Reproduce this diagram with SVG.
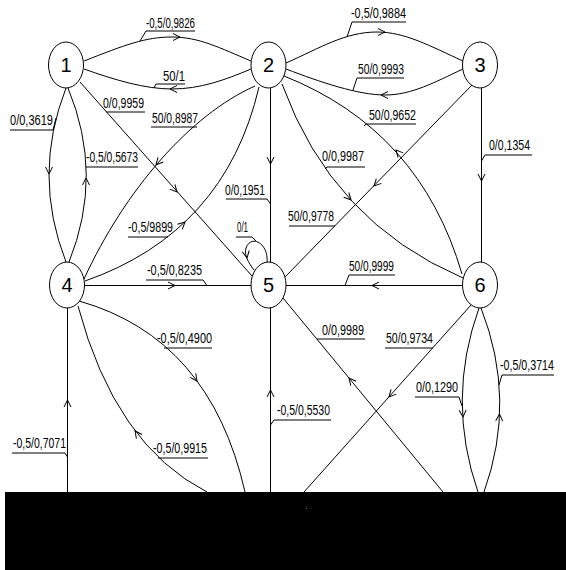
<svg xmlns="http://www.w3.org/2000/svg" xmlns:xlink="http://www.w3.org/1999/xlink" width="566" height="570" viewBox="0 0 566 570">
<style>
.e{fill:none;stroke:#000;stroke-width:1}
.u{fill:none;stroke:#000;stroke-width:1}
.a{fill:none;stroke:#000;stroke-width:1}
.l{font-family:"Liberation Sans",Arial,sans-serif;font-size:14px;fill:#000}
.n ellipse{fill:#fff;stroke:#000;stroke-width:1}
.n text{font-family:"Liberation Sans",Arial,sans-serif;font-size:20px;text-anchor:middle;fill:#000}
</style>
<defs>
<path id="ah" d="M-7,-3.5 L0,0 L-7,3.5"/>
</defs>
<rect width="566" height="570" fill="#fff"/>
<g id="connectors">
 <g id="e1-2a"><path class="e" d="M84,61 C125,45 145,37 172,37 C199,37 220,48 251,61"/><use href="#ah" class="a" transform="translate(180,37)"/><text class="l" x="146" y="28" textLength="49" lengthAdjust="spacingAndGlyphs">-0,5/0,9826</text><path class="u" d="M140,41 L146,31 H195"/></g>
 <g id="e2-1"><path class="e" d="M251,69 C225,80 200,89 172,89 C145,89 115,80 84,69"/><use href="#ah" class="a" transform="translate(170,89) rotate(180)"/><text class="l" x="163" y="81" textLength="22" lengthAdjust="spacingAndGlyphs">50/1</text><path class="u" d="M154,88 L156,84 H185"/></g>
 <g id="e2-3"><path class="e" d="M286,63 C320,48 345,32 377,32 C405,32 430,46 463,61"/><use href="#ah" class="a" transform="translate(385,32)"/><text class="l" x="351" y="18" textLength="55" lengthAdjust="spacingAndGlyphs">-0,5/0,9884</text><path class="u" d="M347,37 L352,22 H406"/></g>
 <g id="e3-2"><path class="e" d="M463,69 C435,82 412,95 385,95 C358,95 320,82 286,69"/><use href="#ah" class="a" transform="translate(381,95) rotate(180)"/><text class="l" x="358" y="74" textLength="46" lengthAdjust="spacingAndGlyphs">50/0,9993</text><path class="u" d="M353,90 L357,78 H404"/></g>
 <g id="e2-6"><path class="e" d="M282,84 Q332,222 463,278"/><use href="#ah" class="a" transform="translate(351,200) rotate(47)"/><text class="l" x="322" y="161" textLength="42" lengthAdjust="spacingAndGlyphs">0/0,9987</text><path class="u" d="M325,169 L327,167 H365"/></g>
 <g id="e6-2"><path class="e" d="M462,274 Q420,130 284,76"/><use href="#ah" class="a" transform="translate(396,150) rotate(228)"/><text class="l" x="369" y="120" textLength="47" lengthAdjust="spacingAndGlyphs">50/0,9652</text><path class="u" d="M364,126 L366,124 H416"/></g>
 <g id="e3-5"><path class="e" d="M472,85 L285,277"/><use href="#ah" class="a" transform="translate(374,186) rotate(134)"/><text class="l" x="288" y="221" textLength="46" lengthAdjust="spacingAndGlyphs">50/0,9778</text><path class="u" d="M289,226 H335"/></g>
 <g id="e3-6"><path class="e" d="M481.5,88 V262"/><use href="#ah" class="a" transform="translate(481.5,181) rotate(90)"/><text class="l" x="489" y="150" textLength="41" lengthAdjust="spacingAndGlyphs">0/0,1354</text><path class="u" d="M481.5,161 L485,155 H532"/></g>
 <g id="e2-5"><path class="e" d="M270.5,88 V262"/><use href="#ah" class="a" transform="translate(270.5,164) rotate(90)"/><text class="l" x="225" y="195" textLength="40" lengthAdjust="spacingAndGlyphs">0/0,1951</text><path class="u" d="M226,199 H267 L270.5,204"/></g>
 <g id="e1-5"><path class="e" d="M80,82 L252,276"/><use href="#ah" class="a" transform="translate(177,192) rotate(48)"/><text class="l" x="103" y="108" textLength="41" lengthAdjust="spacingAndGlyphs">0/0,9959</text><path class="u" d="M106,112 H145"/></g>
 <g id="e1-4"><path class="e" d="M66,88 Q32,175 66,262"/><use href="#ah" class="a" transform="translate(49,174) rotate(90)"/><text class="l" x="10" y="125" textLength="43" lengthAdjust="spacingAndGlyphs">0/0,3619</text><path class="u" d="M10,130 H53 L56,118"/></g>
 <g id="e4-1"><path class="e" d="M69,262 Q104,175 68,88"/><use href="#ah" class="a" transform="translate(86,178) rotate(-90)"/><text class="l" x="86" y="162" textLength="52" lengthAdjust="spacingAndGlyphs">-0,5/0,5673</text><path class="u" d="M86,167 H138"/></g>
 <g id="e2-4"><path class="e" d="M255,86 C190,115 125,190 84,279"/><use href="#ah" class="a" transform="translate(156,165) rotate(131)"/><text class="l" x="152" y="123" textLength="46" lengthAdjust="spacingAndGlyphs">50/0,8987</text><path class="u" d="M151,127 H197"/></g>
 <g id="e4-2"><path class="e" d="M85,281 Q225,232 259,87"/><use href="#ah" class="a" transform="translate(185,222) rotate(-43)"/><text class="l" x="128" y="232" textLength="45" lengthAdjust="spacingAndGlyphs">-0,5/9899</text><path class="u" d="M128,237 H168"/></g>
 <g id="e4-5"><path class="e" d="M84.5,285.5 H251"/><use href="#ah" class="a" transform="translate(175,285.5)"/><text class="l" x="147" y="275" textLength="55" lengthAdjust="spacingAndGlyphs">-0,5/0,8235</text><path class="u" d="M146,280 H203 L207,285.5"/></g>
 <g id="e6-5"><path class="e" d="M463,285.5 H286"/><use href="#ah" class="a" transform="translate(372,285.5) rotate(180)"/><text class="l" x="349" y="271" textLength="45" lengthAdjust="spacingAndGlyphs">50/0,9999</text><path class="u" d="M345,285.5 L349,275 H395"/></g>
 <g id="e5-5"><path class="e" d="M267,263 C269,243 251,234 246,248 C244,255 248,262 254,270"/><use href="#ah" class="a" transform="translate(247,258) rotate(80)"/><text class="l" x="237" y="232" textLength="11" lengthAdjust="spacingAndGlyphs">0/1</text><path class="u" d="M236,237 H252 L256,241"/></g>
 <g id="e7-4a"><path class="e" d="M67.5,492 V308"/><use href="#ah" class="a" transform="translate(67.5,400) rotate(-90)"/><text class="l" x="13" y="448" textLength="53" lengthAdjust="spacingAndGlyphs">-0,5/0,7071</text><path class="u" d="M12,453 H65 L67.5,457"/></g>
 <g id="e4-7"><path class="e" d="M79,301 Q210,338 245,492"/><use href="#ah" class="a" transform="translate(197,381) rotate(54)"/><text class="l" x="157" y="343" textLength="55" lengthAdjust="spacingAndGlyphs">-0,5/0,4900</text><path class="u" d="M164,348 H212"/></g>
 <g id="e7-4b"><path class="e" d="M207,492 Q115,445 78,306"/><use href="#ah" class="a" transform="translate(135,431) rotate(-127)"/><text class="l" x="153" y="453" textLength="54" lengthAdjust="spacingAndGlyphs">-0,5/0,9915</text><path class="u" d="M158,458 H208"/></g>
 <g id="e7-5a"><path class="e" d="M270.5,492 V308"/><use href="#ah" class="a" transform="translate(270.5,390) rotate(-90)"/><text class="l" x="277" y="415" textLength="53" lengthAdjust="spacingAndGlyphs">-0,5/0,5530</text><path class="u" d="M270.5,425 L274,420 H331"/></g>
 <g id="e7-5b"><path class="e" d="M443,492 L283,298"/><use href="#ah" class="a" transform="translate(349,378) rotate(-129.5)"/><text class="l" x="322" y="335" textLength="42" lengthAdjust="spacingAndGlyphs">0/0,9989</text><path class="u" d="M317,339 H365"/></g>
 <g id="e6-7a"><path class="e" d="M471,305 L304,492"/><use href="#ah" class="a" transform="translate(389,397) rotate(132)"/><text class="l" x="386" y="343" textLength="47" lengthAdjust="spacingAndGlyphs">50/0,9734</text><path class="u" d="M385,348 H433"/></g>
 <g id="e6-7b"><path class="e" d="M479,308 Q446,400 478,492"/><use href="#ah" class="a" transform="translate(463,417) rotate(87)"/><text class="l" x="416" y="392" textLength="42" lengthAdjust="spacingAndGlyphs">0/0,1290</text><path class="u" d="M415,397 H459 L462,406"/></g>
 <g id="e7-6"><path class="e" d="M484,492 Q517,400 481,308"/><use href="#ah" class="a" transform="translate(499.5,414) rotate(-87.5)"/><text class="l" x="500" y="370" textLength="54" lengthAdjust="spacingAndGlyphs">-0,5/0,3714</text><path class="u" d="M499,385 L502,375 H554"/></g>
</g>
<g id="n1" class="n"><ellipse cx="66" cy="65" rx="17.5" ry="23"/><text x="66" y="72">1</text></g>
<g id="n2" class="n"><ellipse cx="268.5" cy="65" rx="17.5" ry="23"/><text x="268.5" y="72">2</text></g>
<g id="n3" class="n"><ellipse cx="480" cy="65" rx="17.5" ry="23"/><text x="480" y="72">3</text></g>
<g id="n4" class="n"><ellipse cx="67" cy="285" rx="17.5" ry="23"/><text x="67" y="292">4</text></g>
<g id="n5" class="n"><ellipse cx="268.5" cy="285" rx="17.5" ry="23"/><text x="268.5" y="292">5</text></g>
<g id="n6" class="n"><ellipse cx="480" cy="285" rx="17.5" ry="23"/><text x="480" y="292">6</text></g>
<rect id="bar" x="5" y="492" width="561" height="78" fill="#000"/>
<rect x="306" y="508" width="1" height="1" fill="#777"/>
</svg>
